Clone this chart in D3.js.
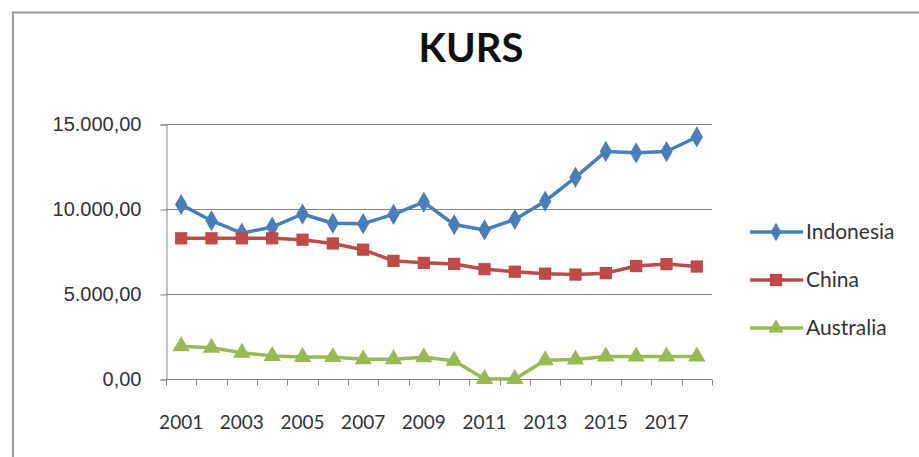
<!DOCTYPE html>
<html>
<head>
<meta charset="utf-8">
<script src="https://cdn.jsdelivr.net/npm/d3@7"></script>
<style>
  body { margin: 0; background: #fff; }
  svg { font-family: Lato, "Open Sans", sans-serif; }
</style>
</head>
<body>
<div id="content"></div>
<script>
// data
var years = ["2001","2002","2003","2004","2005","2006","2007","2008","2009",
             "2010","2011","2012","2013","2014","2015","2016","2017","2018"];
var indonesia = [10260, 9311, 8577, 8939, 9705, 9164, 9136, 9680, 10398,
                 9085, 8770, 9387, 10461, 11865, 13389, 13308, 13381, 14237];
var china = [8277, 8277, 8277, 8277, 8194, 7973, 7608, 6949, 6831,
             6770, 6461, 6312, 6196, 6143, 6227, 6644, 6759, 6616];
var australia = [1930, 1840, 1540, 1360, 1290, 1290, 1160, 1160, 1280,
                 1070, 0, 0, 1100, 1150, 1320, 1320, 1320, 1330];
var yTicks = [0, 5000, 10000, 15000];
var seriesNames = ["Indonesia", "China", "Australia"];
var seriesColors = ["#4a7ebb", "#be4b48", "#98b954"];
var seriesSymbols = [d3.symbolDiamond, d3.symbolSquare, d3.symbolTriangle];

var series = [indonesia, china, australia].map(function(vals, i) {
  return { name: seriesNames[i], color: seriesColors[i], symbol: seriesSymbols[i], values: vals };
});

var W = 919, H = 457;
var margin = {top: 124, left: 166, right: 207, bottom: 78};

var svg = d3.select("#content").append("svg")
    .attr("width", W)
    .attr("height", H);

// chart border (only top and left visible)
svg.append("path")
    .attr("d", "M13,457 L13,12.5 L919,12.5")
    .attr("fill", "none")
    .attr("stroke", "#9a9a9a")
    .attr("stroke-width", 2);

svg.append("text")
    .attr("x", 471)
    .attr("y", 62)
    .attr("text-anchor", "middle")
    .style("font-size", "40px")
    .style("font-weight", "bold")
    .style("fill", "#111")
    .text("KURS");

var x = d3.scaleBand()
    .domain(years)
    .range([margin.left, W - margin.right]);

var y = d3.scaleLinear()
    .domain([0, 15000])
    .range([H - margin.bottom, margin.top]);

var fmt = function(v) {
  return d3.format(",.2f")(v).replace(/,/g, "#").replace(".", ",").replace(/#/g, ".");
};

// gridlines
svg.append("g")
  .selectAll("line")
  .data(yTicks.slice(1))
  .enter()
  .append("line")
    .attr("x1", margin.left)
    .attr("x2", W - margin.right)
    .attr("y1", function(d) { return Math.round(y(d)) + 0.5; })
    .attr("y2", function(d) { return Math.round(y(d)) + 0.5; })
    .attr("stroke", "#868686")
    .attr("stroke-width", 1);

// y axis
var yAxis = svg.append("g")
    .attr("transform", "translate(" + (margin.left + 0.5) + ",0.5)")
    .call(d3.axisLeft(y).tickValues(yTicks).tickSize(6).tickPadding(19).tickFormat(fmt));
yAxis.selectAll("text").style("font-size", "20px").style("fill", "#333");
yAxis.selectAll("line, path").attr("stroke", "#868686");

// x axis: ticks on category boundaries, labels every second year
var xAxis = svg.append("g")
    .attr("transform", "translate(0," + (Math.round(y(0)) + 0.5) + ")");
xAxis.append("line")
    .attr("x1", margin.left)
    .attr("x2", W - margin.right)
    .attr("stroke", "#868686");
xAxis.selectAll(".tk")
  .data(years.concat(["end"]))
  .enter()
  .append("line")
    .attr("class", "tk")
    .attr("x1", function(d, i) { return Math.round(margin.left + i * x.bandwidth()) + 0.5; })
    .attr("x2", function(d, i) { return Math.round(margin.left + i * x.bandwidth()) + 0.5; })
    .attr("y1", 0)
    .attr("y2", 6)
    .attr("stroke", "#868686");
xAxis.selectAll("text")
  .data(years.filter(function(d, i) { return i % 2 === 0; }))
  .enter()
  .append("text")
    .attr("x", function(d) { return x(d) + x.bandwidth() / 2; })
    .attr("y", 49)
    .attr("text-anchor", "middle")
    .style("font-size", "19px")
    .style("fill", "#333")
    .text(function(d) { return d; });

// lines and markers
var line = d3.line()
    .x(function(d, i) { return x(years[i]) + x.bandwidth() / 2; })
    .y(function(d) { return y(d); });

series.forEach(function(s) {
  var g = svg.append("g");
  g.append("path")
      .datum(s.values)
      .attr("fill", "none")
      .attr("stroke", s.color)
      .attr("stroke-width", 3.5)
      .attr("stroke-linejoin", "round")
      .attr("d", line);
  g.selectAll("path.m")
    .data(s.values)
    .enter()
    .append("path")
      .attr("class", "m")
      .attr("transform", function(d, i) {
        return "translate(" + (x(years[i]) + x.bandwidth() / 2) + "," + y(d) + ")";
      })
      .attr("d", d3.symbol().type(s.symbol).size(s.symbol === d3.symbolSquare ? 150 : 130))
      .attr("fill", s.color);
});

// legend
var legend = svg.append("g")
    .selectAll("g")
    .data(series)
    .enter()
    .append("g")
    .attr("transform", function(d, i) { return "translate(750," + (232 + i * 48) + ")"; });
legend.append("line")
    .attr("x1", 0).attr("x2", 53)
    .attr("stroke", function(d) { return d.color; })
    .attr("stroke-width", 3.5);
legend.append("path")
    .attr("transform", "translate(26,0)")
    .attr("d", function(d) { return d3.symbol().type(d.symbol).size(d.symbol === d3.symbolSquare ? 150 : 100)(); })
    .attr("fill", function(d) { return d.color; });
legend.append("text")
    .attr("x", 56)
    .attr("dy", "0.35em")
    .style("font-size", "21px")
    .style("fill", "#333")
    .text(function(d) { return d.name; });
</script>
</body>
</html>
